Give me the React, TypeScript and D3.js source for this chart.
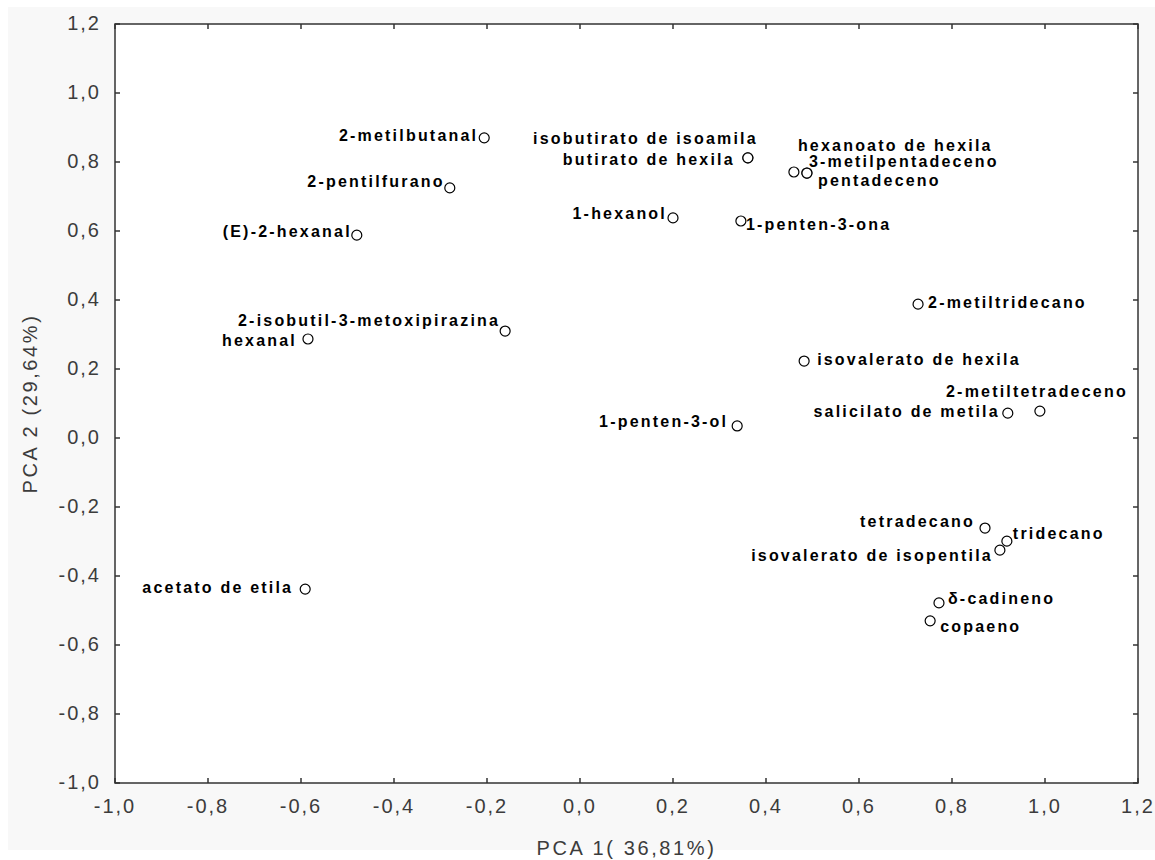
import React from "react";
import * as d3 from "d3";

// ---- data ----
const names = [
  "2-metilbutanal",
  "2-pentilfurano",
  "(E)-2-hexanal",
  "2-isobutil-3-metoxipirazina",
  "hexanal",
  "acetato de etila",
  "isobutirato de isoamila",
  "butirato de hexila",
  "1-hexanol",
  "1-penten-3-ona",
  "hexanoato de hexila",
  "3-metilpentadeceno",
  "pentadeceno",
  "2-metiltridecano",
  "isovalerato de hexila",
  "2-metiltetradeceno",
  "salicilato de metila",
  "1-penten-3-ol",
  "tetradecano",
  "tridecano",
  "isovalerato de isopentila",
  "δ-cadineno",
  "copaeno",
];
const pca1 = [
  -0.206, -0.28, -0.48, -0.161, -0.585, -0.591, 0.361, 0.361, 0.2, 0.346, 0.46,
  0.488, 0.488, 0.727, 0.482, 0.989, 0.92, 0.338, 0.871, 0.918, 0.903, 0.772,
  0.753,
];
const pca2 = [
  0.87, 0.725, 0.588, 0.31, 0.287, -0.438, 0.812, 0.812, 0.638, 0.629, 0.771,
  0.768, 0.768, 0.388, 0.223, 0.078, 0.072, 0.035, -0.261, -0.299, -0.325,
  -0.478, -0.53,
];
const xTicks = [-1.0, -0.8, -0.6, -0.4, -0.2, 0.0, 0.2, 0.4, 0.6, 0.8, 1.0, 1.2];
const yTicks = [-1.0, -0.8, -0.6, -0.4, -0.2, 0.0, 0.2, 0.4, 0.6, 0.8, 1.0, 1.2];
const xTitle = "PCA 1( 36,81%)";
const yTitle = "PCA 2 (29,64%)";

// label placement (layout only): [dx, dy, anchor]
const labelPlacement: [number, number, string][] = [
  [-6, -1, "end"],
  [-5, -5, "end"],
  [-5, -2, "end"],
  [-5, -9, "end"],
  [-11, 3, "end"],
  [-12, 0, "end"],
  [10, -18, "end"],
  [-13, 3, "end"],
  [-6, -3, "end"],
  [5, 5, "start"],
  [4, -25, "start"],
  [2, -10, "start"],
  [11, 9, "start"],
  [10, 0, "start"],
  [13, 0, "start"],
  [88, -18, "end"],
  [-8, 0, "end"],
  [-9, -3, "end"],
  [-10, -5, "end"],
  [6, -6, "start"],
  [-7, 7, "end"],
  [9, -3, "start"],
  [10, 7, "start"],
];

const W = 1155;
const H = 860;
const L = 115;
const R = 1138;
const T = 24;
const B = 783;

const fmt = (v: number) => v.toFixed(1).replace(".", ",");

export default function App() {
  const x = d3.scaleLinear().domain([-1, 1.2]).range([L, R]);
  const y = d3.scaleLinear().domain([-1, 1.2]).range([B, T]);
  const tickFont = "'Liberation Sans', Arial, sans-serif";
  const tickColor = "#3c3c3c";
  const tl = 5;

  return (
    <svg
      width={W}
      height={H}
      style={{ position: "absolute", left: 0, top: 0, display: "block" }}
    >
      <rect x={0} y={0} width={W} height={H} fill="#ffffff" />
      <rect x={8} y={7} width={W - 8} height={843} fill="#f8f8f8" />
      <rect x={L} y={T} width={R - L} height={B - T} fill="#ffffff" />

      {/* ticks */}
      {xTicks.map((t, i) => (
        <g key={"xt" + i}>
          <line x1={x(t)} x2={x(t)} y1={B} y2={B - tl} stroke="#333" strokeWidth={1.5} />
          <line x1={x(t)} x2={x(t)} y1={T} y2={T + tl} stroke="#333" strokeWidth={1.5} />
          <text
            x={x(t)}
            y={B + 25}
            textAnchor="middle"
            dominantBaseline="middle"
            fontFamily={tickFont}
            fontSize={20}
            letterSpacing={2}
            fill={tickColor}
          >
            {fmt(t)}
          </text>
        </g>
      ))}
      {yTicks.map((t, i) => (
        <g key={"yt" + i}>
          <line x1={L} x2={L + tl} y1={y(t)} y2={y(t)} stroke="#333" strokeWidth={1.5} />
          <line x1={R} x2={R - tl} y1={y(t)} y2={y(t)} stroke="#333" strokeWidth={1.5} />
          <text
            x={L - 14}
            y={y(t) + 1}
            textAnchor="end"
            dominantBaseline="middle"
            fontFamily={tickFont}
            fontSize={20}
            letterSpacing={2}
            fill={tickColor}
          >
            {fmt(t)}
          </text>
        </g>
      ))}

      {/* frame */}
      <rect x={L} y={T} width={R - L} height={B - T} fill="none" stroke="#333" strokeWidth={1.5} />

      {/* axis titles */}
      <text
        x={(L + R) / 2}
        y={850}
        textAnchor="middle"
        dominantBaseline="middle"
        fontFamily={tickFont}
        fontSize={20}
        letterSpacing={2.6}
        fill={tickColor}
      >
        {xTitle}
      </text>
      <text
        transform={`translate(32, ${(T + B) / 2}) rotate(-90)`}
        textAnchor="middle"
        dominantBaseline="middle"
        fontFamily={tickFont}
        fontSize={20}
        letterSpacing={2.6}
        fill={tickColor}
      >
        {yTitle}
      </text>

      {/* points and labels */}
      {names.map((n, i) => {
        const cx = x(pca1[i]);
        const cy = y(pca2[i]);
        const [dx, dy, anchor] = labelPlacement[i];
        return (
          <g key={"p" + i}>
            <circle cx={cx} cy={cy} r={5} fill="#fff" stroke="#000" strokeWidth={1.2} />
            <text
              x={cx + dx}
              y={cy + dy}
              textAnchor={anchor as any}
              dominantBaseline="middle"
              fontFamily={tickFont}
              fontWeight="bold"
              fontSize={16}
              letterSpacing={2.2}
              fill="#000"
            >
              {n}
            </text>
          </g>
        );
      })}
    </svg>
  );
}
